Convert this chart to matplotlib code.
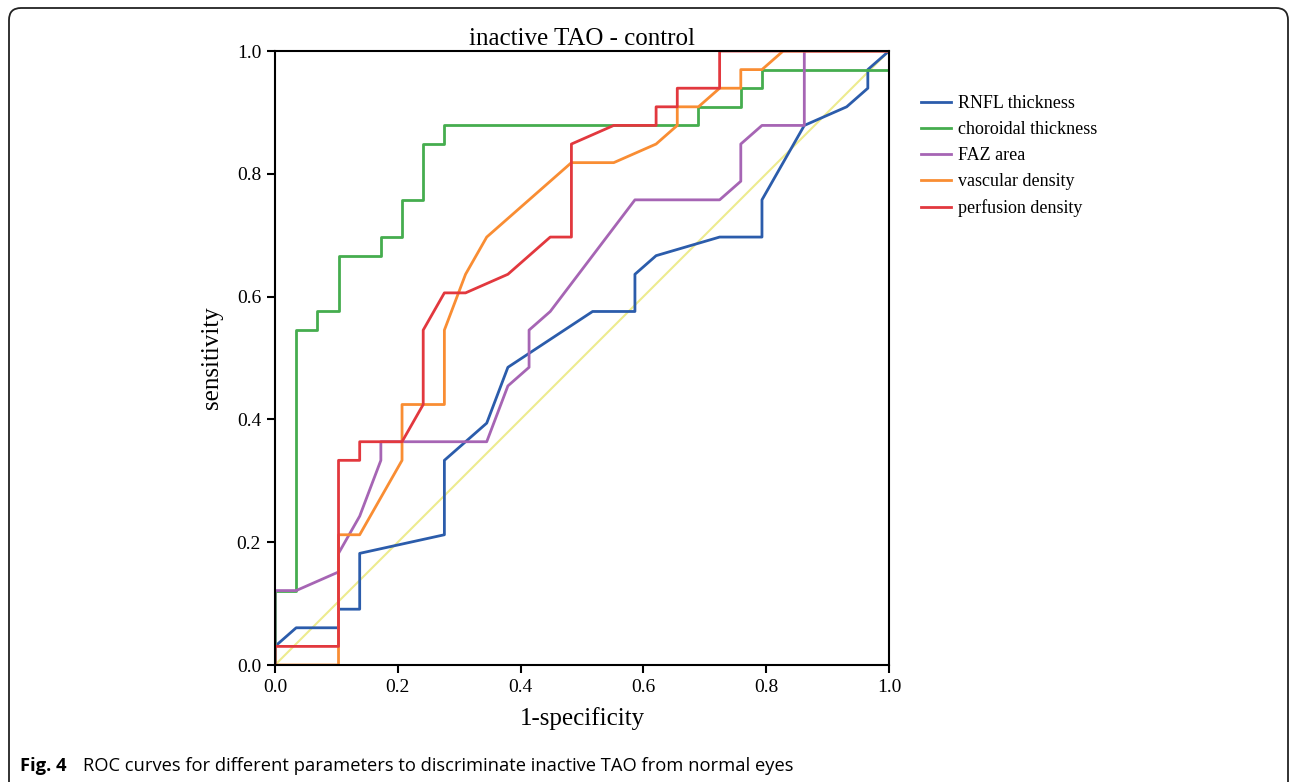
"""ROC curves: inactive TAO vs control."""

import matplotlib
matplotlib.use("Agg")
import matplotlib.pyplot as plt
from matplotlib.patches import FancyBboxPatch
from matplotlib.transforms import IdentityTransform
import numpy as np

# 29 controls (x steps), 33 patients (y steps)
N_NEG = 29
N_POS = 33

# curve vertices as (false positive count, true positive count)
rnfl_fp = [0, 0, 1, 3, 3, 4, 4, 8, 8, 10, 11, 15, 17, 17, 18, 21, 23, 23, 25, 27, 28, 28, 29]
rnfl_tp = [0, 1, 2, 2, 3, 3, 6, 7, 11, 13, 16, 19, 19, 21, 22, 23, 23, 25, 29, 30, 31, 32, 33]

choroid_fp = [0, 0, 1, 1, 2, 2, 3, 3, 5, 5, 6, 6, 7, 7, 8, 8, 20, 20, 22, 22, 23, 23, 29, 29]
choroid_tp = [0, 4, 4, 18, 18, 19, 19, 22, 22, 23, 23, 25, 25, 28, 28, 29, 29, 30, 30, 31, 31, 32, 32, 33]

faz_fp = [0, 0, 1, 3, 3, 4, 5, 5, 10, 11, 12, 12, 13, 17, 21, 22, 22, 23, 25, 25, 29]
faz_tp = [0, 4, 4, 5, 6, 8, 11, 12, 12, 15, 16, 18, 19, 25, 25, 26, 28, 29, 29, 33, 33]

vd_fp = [0, 3, 3, 4, 6, 6, 8, 8, 9, 10, 14, 16, 18, 19, 19, 20, 21, 22, 22, 23, 24, 29]
vd_tp = [0, 0, 7, 7, 11, 14, 14, 18, 21, 23, 27, 27, 28, 29, 30, 30, 31, 31, 32, 32, 33, 33]

pd_fp = [0, 0, 3, 3, 4, 4, 6, 7, 7, 8, 9, 11, 13, 14, 14, 16, 18, 18, 19, 19, 21, 21, 29]
pd_tp = [0, 1, 1, 11, 11, 12, 12, 14, 18, 20, 20, 21, 23, 23, 28, 29, 29, 30, 30, 31, 31, 33, 33]

labels = ["RNFL thickness", "choroidal thickness", "FAZ area",
          "vascular density", "perfusion density"]
colors = ["#2B5CAB", "#45AD4E", "#A665B4", "#F98D33", "#E2383E"]

curves = [(rnfl_fp, rnfl_tp), (choroid_fp, choroid_tp), (faz_fp, faz_tp),
          (vd_fp, vd_tp), (pd_fp, pd_tp)]

serif = ["Liberation Serif", "DejaVu Serif"]

fig = plt.figure(figsize=(12.9, 7.82), dpi=100)
ax = fig.add_axes([275 / 1290, 1 - 665 / 782, 614 / 1290, 614 / 782])

# reference diagonal
ax.plot([0, 1], [0, 1], color="#EDEB8E", lw=1.5, zorder=1)

for (fp, tp), lab, col in zip(curves, labels, colors):
    x = np.array(fp) / N_NEG
    y = np.array(tp) / N_POS
    ax.plot(x, y, color=col, lw=2, label=lab, zorder=2)

ax.set_xlim(0, 1)
ax.set_ylim(0, 1)
ticks = np.arange(0, 1.01, 0.2)
ax.set_xticks(ticks)
ax.set_yticks(ticks)
ax.set_xticklabels(["{:.1f}".format(t) for t in ticks], fontfamily=serif, fontsize=14)
ax.set_yticklabels(["{:.1f}".format(t) for t in ticks], fontfamily=serif, fontsize=14)
ax.tick_params(direction="out", length=6, width=1.5, pad=4)
for sp in ax.spines.values():
    sp.set_linewidth(1.5)

ax.set_title("inactive TAO - control", fontfamily=serif, fontsize=18, pad=4)
ax.set_xlabel("1-specificity", fontfamily=serif, fontsize=18, labelpad=8)
ax.set_ylabel("sensitivity", fontfamily=serif, fontsize=18, labelpad=10)

leg = ax.legend(loc="upper left", bbox_to_anchor=(1.04, 0.94), frameon=False,
                prop={"family": serif, "size": 13}, handlelength=1.65,
                handletextpad=0.4, labelspacing=0.5, borderaxespad=0)

# caption
fig.text(20 / 1290, 1 - 766 / 782, "Fig. 4", fontfamily="Open Sans", fontweight="bold",
         fontsize=13.2, va="center")
fig.text(83 / 1290, 1 - 766 / 782,
         "ROC curves for different parameters to discriminate inactive TAO from normal eyes",
         fontfamily="Open Sans", fontsize=13.2, va="center")

# rounded page frame
frame = FancyBboxPatch((9, -30), 1279, 782 - 8 + 30,
                       boxstyle="round,pad=0,rounding_size=12",
                       transform=IdentityTransform(), fill=False,
                       edgecolor="#222222", lw=1.3)
fig.patches.append(frame)

fig.savefig("out.png", dpi=100)
plt.close(fig)
